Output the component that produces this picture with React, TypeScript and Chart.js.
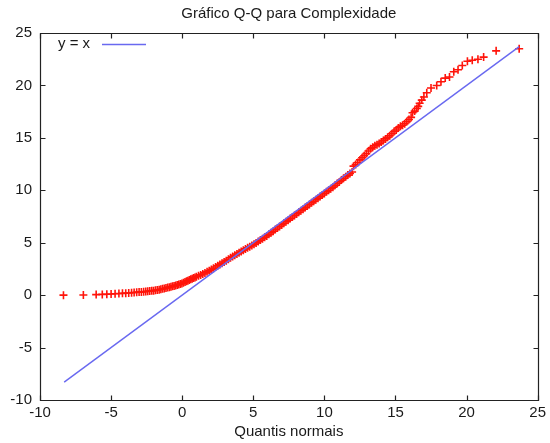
import React, { useEffect, useRef } from "react";
import { Chart, registerables } from "chart.js";

Chart.register(...registerables);

// Lower tail of the Q-Q plot
const quantisInferior = [
  -8.35, -6.95, -6.05, -5.62, -5.3, -5.0, -4.72, -4.45, -4.2, -3.97, -3.76, -3.56, -3.38, -3.2, -3.03, -2.87,
  -2.71, -2.56, -2.42, -2.28, -2.14, -2.01, -1.88, -1.75, -1.62, -1.5, -1.38, -1.26, -1.14, -1.02, -0.9, -0.79,
  -0.68, -0.57, -0.46, -0.35, -0.24, -0.13, -0.02, 0.09, 0.2, 0.3, 0.4, 0.5, 0.6, 0.7, 0.8, 0.9,
];
const complexidadeInferior = [
  0.0, 0.02, 0.05, 0.07, 0.09, 0.11, 0.13, 0.15, 0.17, 0.19, 0.21, 0.23, 0.25, 0.27, 0.29, 0.31,
  0.33, 0.35, 0.37, 0.39, 0.41, 0.43, 0.46, 0.49, 0.52, 0.56, 0.6, 0.64, 0.68, 0.72, 0.76, 0.8,
  0.84, 0.88, 0.92, 0.97, 1.02, 1.07, 1.12, 1.18, 1.25, 1.32, 1.38, 1.45, 1.51, 1.57, 1.63, 1.69,
];

// Central body
const quantisCentral = [
  1.0, 1.15, 1.3, 1.45, 1.6, 1.75, 1.9, 2.05, 2.2, 2.35,
  2.5, 2.65, 2.8, 2.95, 3.1, 3.25, 3.4, 3.55, 3.7, 3.85,
  4.0, 4.15, 4.3, 4.45, 4.6, 4.75, 4.9, 5.05, 5.2, 5.35,
  5.5, 5.65, 5.8, 5.95, 6.1, 6.25, 6.4, 6.55, 6.7, 6.85,
  7.0, 7.15, 7.3, 7.45, 7.6, 7.75, 7.9, 8.05, 8.2, 8.35,
  8.5, 8.65, 8.8, 8.95, 9.1, 9.25, 9.4, 9.55, 9.7, 9.85,
  10.0, 10.15, 10.3, 10.45, 10.6, 10.75, 10.9, 11.05, 11.2, 11.35,
  11.5, 11.65, 11.8, 11.95, 12.05, 12.2, 12.35, 12.5, 12.65, 12.8,
  12.95, 13.1, 13.25, 13.4, 13.55, 13.7, 13.85, 14.0, 14.15, 14.3,
  14.45, 14.6, 14.75, 14.9, 15.05, 15.2, 15.35, 15.5, 15.65, 15.8,
  15.95, 16.1,
];
const complexidadeCentral = [
  1.75, 1.84, 1.93, 2.02, 2.12, 2.22, 2.33, 2.44, 2.56, 2.68,
  2.8, 2.92, 3.04, 3.16, 3.29, 3.42, 3.56, 3.69, 3.81, 3.93,
  4.05, 4.17, 4.29, 4.41, 4.52, 4.62, 4.73, 4.85, 4.98, 5.11,
  5.25, 5.38, 5.52, 5.65, 5.8, 5.95, 6.1, 6.25, 6.4, 6.55,
  6.7, 6.85, 7.0, 7.15, 7.3, 7.45, 7.6, 7.75, 7.9, 8.05,
  8.2, 8.35, 8.5, 8.65, 8.8, 8.95, 9.1, 9.25, 9.4, 9.55,
  9.7, 9.85, 10.0, 10.15, 10.3, 10.47, 10.64, 10.8, 10.97, 11.14,
  11.3, 11.45, 11.6, 11.75, 12.3, 12.45, 12.65, 12.9, 13.1, 13.3,
  13.5, 13.75, 13.95, 14.1, 14.25, 14.35, 14.45, 14.6, 14.75, 14.9,
  15.05, 15.2, 15.4, 15.6, 15.75, 15.95, 16.1, 16.2, 16.35, 16.55,
  16.75, 16.95,
];

// Upper tail
const quantisSuperior = [
  16.2, 16.35, 16.5, 16.6, 16.7, 16.85, 17.0, 17.2, 17.5, 17.9, 18.2,
  18.5, 18.8, 19.1, 19.4, 19.7, 20.06, 20.4, 20.8, 21.2, 22.08, 23.7,
];
const complexidadeSuperior = [
  17.4, 17.55, 17.8, 18.0, 18.3, 18.6, 18.9, 19.3, 19.75, 20.0, 20.35,
  20.7, 20.8, 21.3, 21.5, 21.9, 22.3, 22.4, 22.5, 22.7, 23.3, 23.5,
];

// Reference line y = x
const linhaRef = [-8.3, 23.7];

const xTicks = [-10, -5, 0, 5, 10, 15, 20, 25];
const yTicks = [-10, -5, 0, 5, 10, 15, 20, 25];

const titulo = "Gráfico Q-Q para Complexidade";
const tituloX = "Quantis normais";
const legenda = "y = x";

const FONT = '"Liberation Sans", Arial, sans-serif';
const BLUE = "rgb(105,105,240)";
const RED = "rgb(255,20,10)";
const TEXT = "#1a1a1a";

export default function App() {
  const ref = useRef<HTMLCanvasElement | null>(null);

  useEffect(() => {
    if (!ref.current) return;
    const qx = [...quantisInferior, ...quantisCentral, ...quantisSuperior];
    const qy = [...complexidadeInferior, ...complexidadeCentral, ...complexidadeSuperior];
    const pts = qx.map((x, i) => ({ x, y: qy[i] }));

    const framePlugin = {
      id: "framePlugin",
      afterDraw(chart: any) {
        const { ctx, chartArea } = chart;
        const { left, top, right, bottom } = chartArea;
        const xs = chart.scales.x;
        const ys = chart.scales.y;
        ctx.save();
        ctx.strokeStyle = "#222";
        ctx.lineWidth = 1.2;
        const L = Math.round(left) + 0.5;
        const R = Math.round(right) + 0.5;
        const T = Math.round(top) + 0.5;
        const B = Math.round(bottom) + 0.5;
        ctx.beginPath();
        ctx.rect(L, T, R - L, B - T);
        ctx.stroke();
        ctx.beginPath();
        xTicks.forEach((v) => {
          const p = Math.round(xs.getPixelForValue(v)) + 0.5;
          ctx.moveTo(p, B);
          ctx.lineTo(p, B - 5);
          ctx.moveTo(p, T);
          ctx.lineTo(p, T + 5);
        });
        yTicks.forEach((v) => {
          const p = Math.round(ys.getPixelForValue(v)) + 0.5;
          ctx.moveTo(L, p);
          ctx.lineTo(L + 5, p);
          ctx.moveTo(R, p);
          ctx.lineTo(R - 5, p);
        });
        ctx.stroke();

        ctx.fillStyle = TEXT;
        ctx.font = `15px ${FONT}`;
        ctx.textAlign = "center";
        ctx.textBaseline = "middle";
        const cx = (left + right) / 2;
        ctx.fillText(titulo, cx, 14);
        ctx.fillText(tituloX, cx, 432);

        ctx.textAlign = "left";
        ctx.fillText(legenda, left + 18, top + 11);
        ctx.strokeStyle = BLUE;
        ctx.lineWidth = 1.4;
        ctx.beginPath();
        ctx.moveTo(left + 62, Math.round(top + 11) + 0.5);
        ctx.lineTo(left + 106, Math.round(top + 11) + 0.5);
        ctx.stroke();
        ctx.restore();
      },
    };

    const chart = new Chart(ref.current, {
      type: "scatter",
      data: {
        datasets: [
          {
            label: legenda,
            data: linhaRef.map((v) => ({ x: v, y: v })),
            showLine: true,
            borderColor: BLUE,
            borderWidth: 1.4,
            pointRadius: 0,
            fill: false,
          },
          {
            label: "Complexidade",
            data: pts,
            pointStyle: "cross",
            pointRadius: 4,
            borderColor: RED,
            backgroundColor: RED,
            borderWidth: 1.6,
            showLine: false,
          },
        ],
      },
      options: {
        animation: false,
        responsive: true,
        maintainAspectRatio: false,
        layout: { padding: { top: 33, right: 9, left: 0, bottom: 0 } },
        plugins: {
          legend: { display: false },
          tooltip: { enabled: false },
          title: { display: false },
        },
        scales: {
          x: {
            type: "linear",
            min: -10,
            max: 25,
            afterBuildTicks: (s: any) => {
              s.ticks = xTicks.map((v) => ({ value: v }));
            },
            afterFit: (s: any) => {
              s.height = 43;
            },
            grid: { display: false, drawTicks: false },
            border: { display: false },
            ticks: {
              color: TEXT,
              font: { family: FONT, size: 15 },
              padding: 4,
              maxRotation: 0,
            },
          },
          y: {
            type: "linear",
            min: -10,
            max: 25,
            afterBuildTicks: (s: any) => {
              s.ticks = yTicks.map((v) => ({ value: v }));
            },
            afterFit: (s: any) => {
              s.width = 40;
            },
            grid: { display: false, drawTicks: false },
            border: { display: false },
            ticks: {
              color: TEXT,
              font: { family: FONT, size: 15 },
              padding: 8,
            },
          },
        },
      },
      plugins: [framePlugin],
    });
    return () => chart.destroy();
  }, []);

  return (
    <div style={{ position: "absolute", left: 0, top: 0, width: 550, height: 443, background: "#fff" }}>
      <canvas ref={ref} />
    </div>
  );
}
